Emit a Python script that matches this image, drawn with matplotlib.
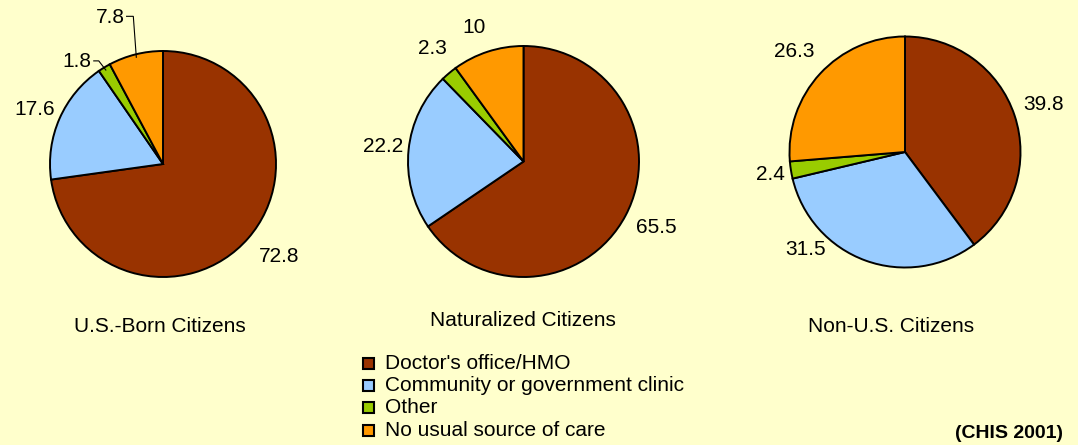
import matplotlib
matplotlib.use("Agg")
import matplotlib.pyplot as plt
from matplotlib.patches import Rectangle
import numpy as np

plt.rcParams['font.family'] = ['Liberation Sans', 'DejaVu Sans']

categories = ["Doctor's office/HMO", "Community or government clinic", "Other", "No usual source of care"]
groups = ["U.S.-Born Citizens", "Naturalized Citizens", "Non-U.S. Citizens"]
us_born = [72.8, 17.6, 1.8, 7.8]
naturalized = [65.5, 22.2, 2.3, 10]
non_citizens = [39.8, 31.5, 2.4, 26.3]
label_texts = [["72.8", "17.6", "1.8", "7.8"],
               ["65.5", "22.2", "2.3", "10"],
               ["39.8", "31.5", "2.4", "26.3"]]
source = "(CHIS 2001)"

colors = ["#993300", "#99CCFF", "#99CC00", "#FF9900"]
bg = "#FFFFCC"

W, H = 1078, 445
fig = plt.figure(figsize=(W / 100, H / 100), dpi=100, facecolor=bg)
ax = fig.add_axes([0, 0, 1, 1])
ax.set_facecolor(bg)

# layout (pixel space, y up)
centers = [(163, H - 164), (523.5, H - 161.5), (905, H - 152)]
radii = [113, 115.5, 115.5]
title_pos = [(160, H - 326), (522.5, H - 320), (891, H - 326)]
# per-label radial distance and angular offset (deg)
label_dist = [[1.31, 1.23, 1.18, 1.38],
              [1.28, 1.22, 1.26, 1.24],
              [1.27, 1.21, 1.18, 1.29]]
label_shift = [[2.6, 0.8, 8.7, 5.8],
               [1.6, -0.5, -1.2, 2.2],
               [0.6, -25.6, 0.3, 0.4]]
leaders = [[False, False, True, True], [False] * 4, [False] * 4]

fs = 15
for gi, vals in enumerate([us_born, naturalized, non_citizens]):
    cx, cy = centers[gi]
    r = radii[gi]
    wedges, _ = ax.pie(vals, colors=colors, startangle=90, counterclock=False,
                       center=(cx, cy), radius=r, frame=True,
                       wedgeprops=dict(edgecolor='black', linewidth=1.4))
    for wi, w in enumerate(wedges):
        mid = np.deg2rad((w.theta1 + w.theta2) / 2 + label_shift[gi][wi])
        d = label_dist[gi][wi]
        tx, ty = cx + d * r * np.cos(mid), cy + d * r * np.sin(mid)
        ax.text(tx, ty, label_texts[gi][wi], ha='center', va='center', fontsize=fs)
        if leaders[gi][wi]:
            midw = np.deg2rad((w.theta1 + w.theta2) / 2)
            ex, ey = cx + (r - 3) * np.cos(midw), cy + (r - 3) * np.sin(midw)
            half = 4.5 * len(label_texts[gi][wi])
            sx = tx + half + 3
            kx = ex - 3 if wi == 3 else sx + 5
            ax.plot([sx, kx, ex], [ty + 1, ty + 1, ey], color='black', lw=0.8,
                    solid_joinstyle='miter')
    ax.text(title_pos[gi][0], title_pos[gi][1], groups[gi], ha='center', va='center', fontsize=fs)

ax.set_xlim(0, W)
ax.set_ylim(0, H)
ax.set_aspect('auto')
ax.axis('off')

# legend drawn manually
sq = 11
for i, (c, lab) in enumerate(zip(colors, categories)):
    yc = H - (363.5 + 22.2 * i)
    ax.add_patch(Rectangle((363, yc - sq / 2), sq, sq, facecolor=c, edgecolor='black', lw=1.5))
    ax.text(385, yc, lab, ha='left', va='center', fontsize=fs)

ax.text(1063, H - 433, source, ha='right', va='center', fontsize=14, fontweight='bold')

fig.savefig("out.png", dpi=100, facecolor=bg)
